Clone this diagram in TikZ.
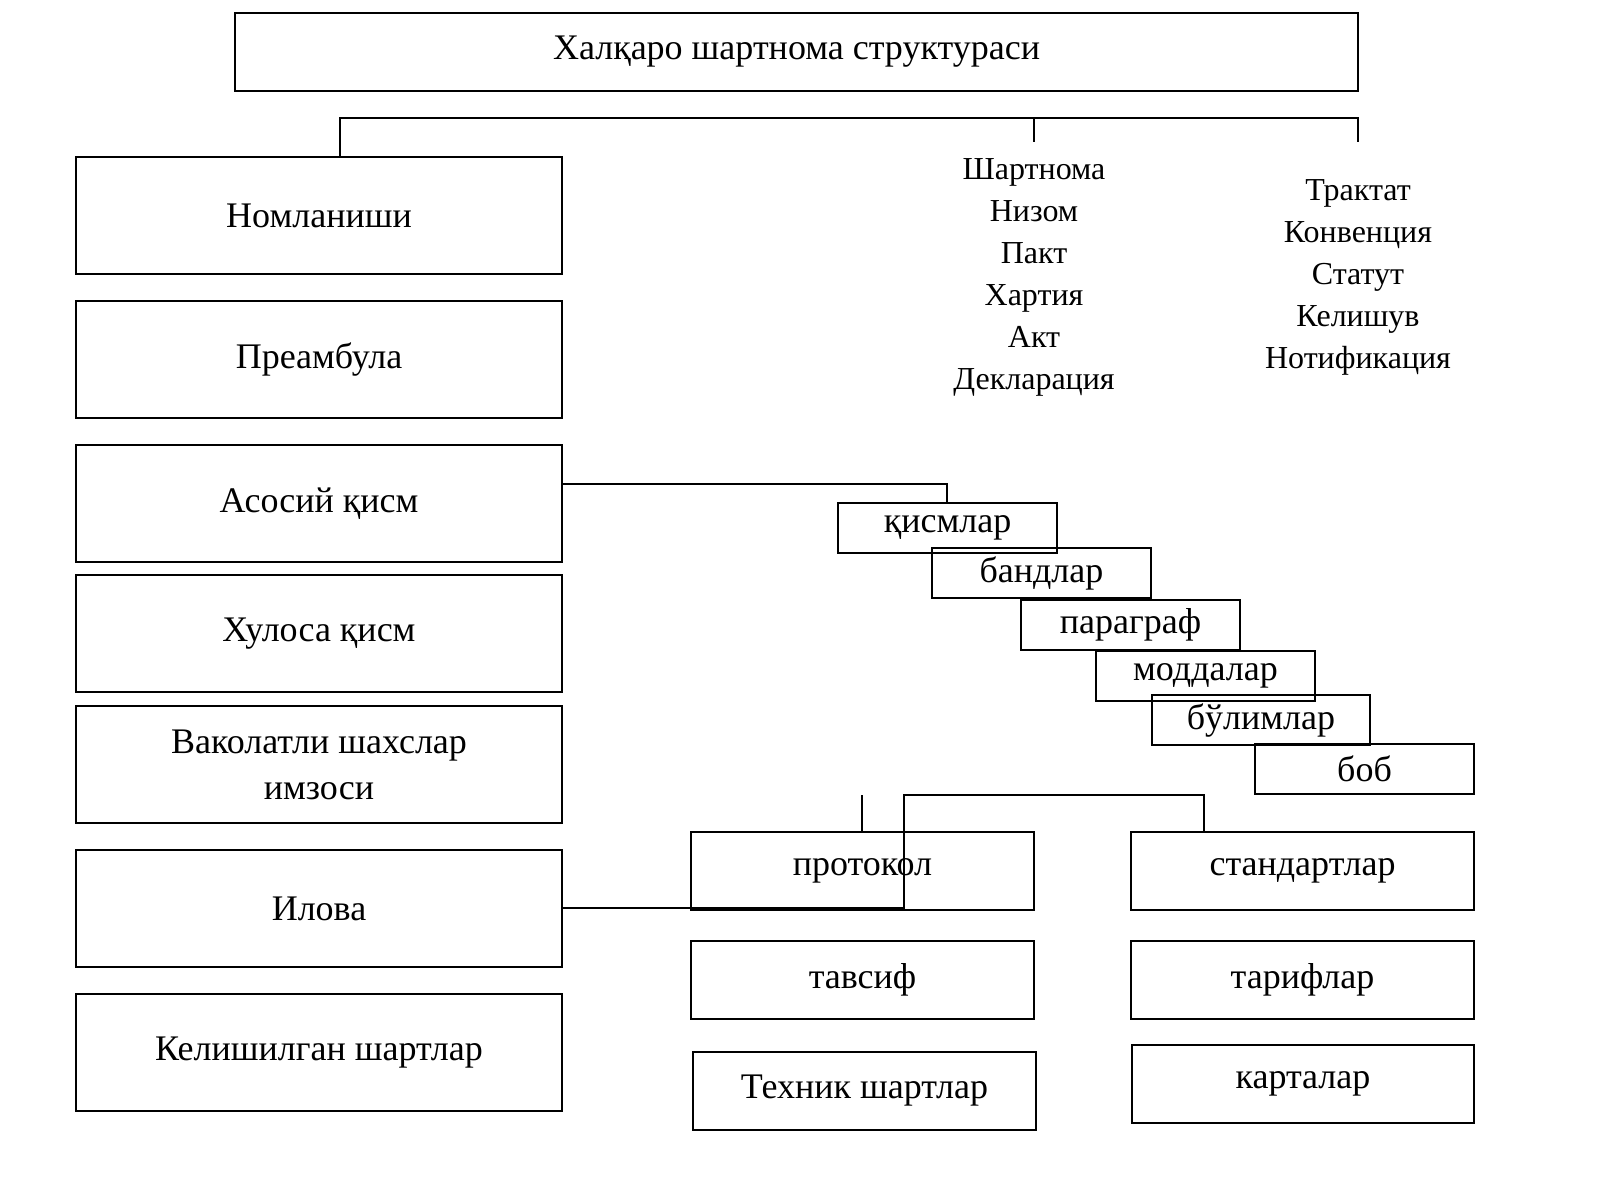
\documentclass[tikz,border=0pt]{standalone}
\usepackage{fontspec}
\setmainfont{Liberation Serif}
\begin{document}
\begin{tikzpicture}[x=1pt,y=-1pt,line width=2pt,
  bx/.style={draw,inner sep=0pt},
  big/.style={font=\fontsize{36}{46}\selectfont,align=center},
  lst/.style={font=\fontsize{32}{42}\selectfont,align=center}]
\useasboundingbox (0,0) rectangle (1600,1200);
\newcommand\bbox[6]{\draw (#2,#3) rectangle (#4,#5); \node[big] (#1) at ({(#2+#4)/2},{(#3+#5)/2}) {#6};}
\bbox{t}{235}{13}{1358}{91}{Халқаро шартнома структураси}
\bbox{a}{76}{157}{562}{274}{Номланиши}
\bbox{b}{76}{301}{562}{418}{Преамбула}
\bbox{c}{76}{445}{562}{562}{Асосий қисм}
\bbox{d}{76}{575}{562}{692}{Хулоса қисм}
\bbox{e}{76}{706}{562}{823}{Ваколатли шахслар\\имзоси}
\bbox{f}{76}{850}{562}{967}{Илова}
\bbox{g}{76}{994}{562}{1111}{Келишилган шартлар}
\draw (340,157) -- (340,118) -- (1358,118) -- (1358,142);
\draw (1034,118) -- (1034,142);
\node[lst] (l1) at (1034,277) {Шартнома\\Низом\\Пакт\\Хартия\\Акт\\Декларация};
\node[lst] (l2) at (1358,277) {Трактат\\Конвенция\\Статут\\Келишув\\Нотификация};
\bbox{s1}{838}{503}{1057}{553}{қисмлар}
\bbox{s2}{932}{548}{1151}{598}{бандлар}
\bbox{s3}{1021}{600}{1240}{650}{параграф}
\bbox{s4}{1096}{651}{1315}{701}{моддалар}
\bbox{s5}{1152}{695}{1370}{745}{бўлимлар}
\bbox{s6}{1255}{744}{1474}{794}{боб}
\draw (562,484) -- (947,484) -- (947,503);
\bbox{p1}{691}{832}{1034}{910}{протокол}
\bbox{p2}{691}{941}{1034}{1019}{тавсиф}
\bbox{p3}{693}{1052}{1036}{1130}{Техник шартлар}
\bbox{q1}{1131}{832}{1474}{910}{стандартлар}
\bbox{q2}{1131}{941}{1474}{1019}{тарифлар}
\bbox{q3}{1132}{1045}{1474}{1123}{карталар}
\draw (562,908) -- (904,908) -- (904,795) -- (1204,795) -- (1204,832);
\draw (862,795) -- (862,832);
\end{tikzpicture}
\end{document}
